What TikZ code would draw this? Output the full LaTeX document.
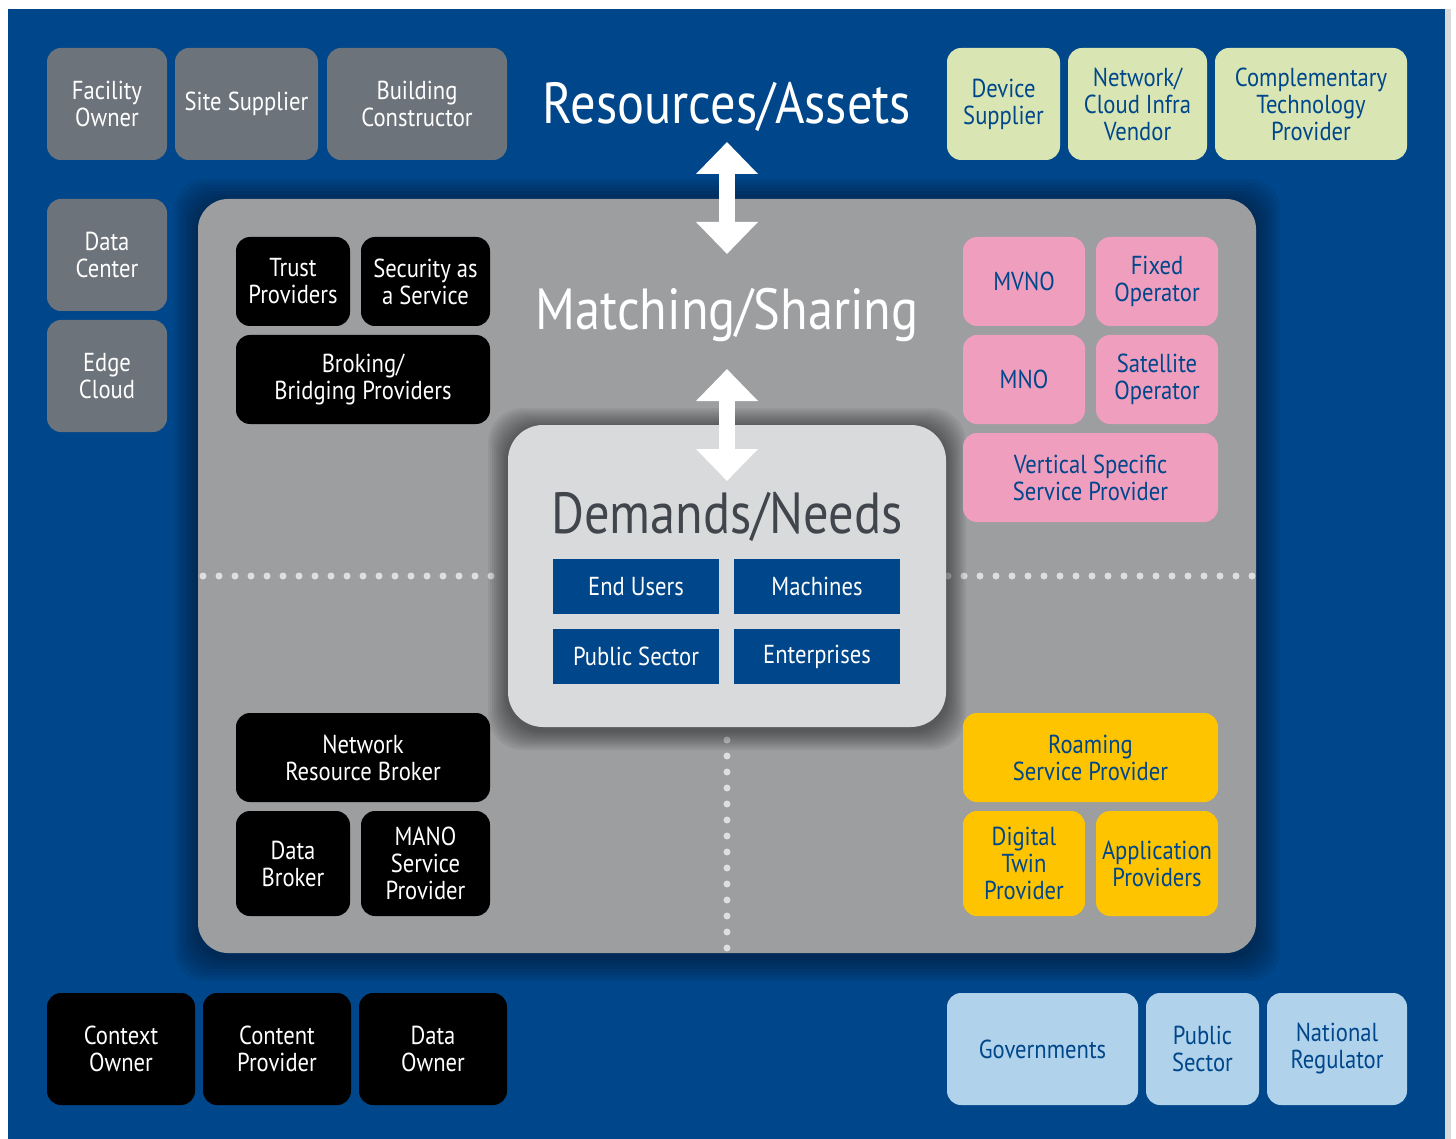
\documentclass[tikz,border=0pt]{standalone}
\usepackage{fontspec}
\setmainfont{PT Sans}[FakeStretch=0.87]
\usetikzlibrary{arrows.meta}
\definecolor{bgblue}{RGB}{0,70,138}
\definecolor{boxgray}{RGB}{109,115,122}
\definecolor{panelgray}{RGB}{157,158,160}
\definecolor{demgray}{RGB}{217,218,220}
\definecolor{demtext}{RGB}{65,70,76}
\definecolor{lightgreen}{RGB}{217,230,180}
\definecolor{pinkbox}{RGB}{239,158,190}
\definecolor{yellowbox}{RGB}{255,196,0}
\definecolor{lightblue}{RGB}{176,210,235}
\definecolor{dotcol}{RGB}{222,222,224}
\tikzset{
  box/.style={rounded corners=14pt, align=center, inner sep=0pt,
    font=\fontsize{26}{27}\selectfont},
  graybox/.style={box, fill=boxgray, text=white},
  blackbox/.style={box, fill=black, text=white},
  greenbox/.style={box, fill=lightgreen, text=bgblue},
  pinkbox/.style={box, fill=pinkbox, text=bgblue},
  yellowbox/.style={box, fill=yellowbox, text=bgblue},
  lightbluebox/.style={box, fill=lightblue, text=bgblue},
  needbox/.style={box, rounded corners=0pt, fill=bgblue, text=white,
    minimum width=166, minimum height=55},
  title/.style={font=\fontsize{58}{62}\selectfont, inner sep=0pt},
  bigarrow/.style={white, line width=16pt,
    {Triangle[width=60pt,length=32pt]}-{Triangle[width=60pt,length=32pt]}},
}
\begin{document}
\begin{tikzpicture}[x=1pt,y=-1pt]
\useasboundingbox (0,0) rectangle (1456,1139);
\fill[white] (0,0) rectangle (1456,1139);
\fill[bgblue] (8,9) rectangle (1445,1139);
\fill[black!15] (1445,9) rectangle (1451,1139);
% top row
\node[graybox, minimum width=120, minimum height=112] (facility) at (107,104) {Facility\\Owner};
\node[graybox, minimum width=143, minimum height=112] (site) at (246.5,104) {Site Supplier};
\node[graybox, minimum width=180, minimum height=112] (building) at (417,104) {Building\\Constructor};
\node[greenbox, minimum width=113, minimum height=112] (device) at (1003.5,104) {Device\\Supplier};
\node[greenbox, minimum width=139, minimum height=112] (cloudvendor) at (1137.5,104) {Network/\\Cloud Infra\\Vendor};
\node[greenbox, minimum width=192, minimum height=112] (complementary) at (1311,104) {Complementary\\Technology\\Provider};
\node[graybox, minimum width=120, minimum height=112] (datacenter) at (107,255) {Data\\Center};
\node[graybox, minimum width=120, minimum height=112] (edgecloud) at (107,376) {Edge\\Cloud};
% matching panel
\foreach \s in {3,6,...,24}
\fill[black, opacity=0.05, rounded corners=30] (198-\s,199-\s+4) rectangle (1256+\s,953+\s+4);
\fill[panelgray, rounded corners=30] (198,199) rectangle (1256,953);
\foreach \x in {203,219,...,491}
\fill[dotcol] (\x,576) circle (3.5);
\foreach \x in {948,964,...,1252}
\fill[dotcol] (\x,576) circle (3.5);
\foreach \y in {740,756,...,948}
\fill[dotcol] (727,\y) circle (3.5);
% demands box
\foreach \s in {2,4,...,20}
\fill[black, opacity=0.05, rounded corners=35] (508-\s,425-\s+3) rectangle (946+\s,727+\s+3);
\fill[demgray, rounded corners=35] (508,425) rectangle (946,727);
\node[blackbox, minimum width=114, minimum height=89] (trust) at (293,281.5) {Trust\\Providers};
\node[blackbox, minimum width=129, minimum height=89] (security) at (425.5,281.5) {Security as\\a Service};
\node[blackbox, minimum width=254, minimum height=89] (broking) at (363,379.5) {Broking/\\Bridging Providers};
\node[blackbox, minimum width=254, minimum height=89] (netbroker) at (363,757.5) {Network\\Resource Broker};
\node[blackbox, minimum width=114, minimum height=105] (databroker) at (293,863.5) {Data\\Broker};
\node[blackbox, minimum width=129, minimum height=105] (mano) at (425.5,863.5) {MANO\\Service\\Provider};
\node[pinkbox, minimum width=122, minimum height=89] (mvno) at (1024,281.5) {MVNO};
\node[pinkbox, minimum width=122, minimum height=89] (fixed) at (1157,281.5) {Fixed\\Operator};
\node[pinkbox, minimum width=122, minimum height=89] (mno) at (1024,379.5) {MNO};
\node[pinkbox, minimum width=122, minimum height=89] (satellite) at (1157,379.5) {Satellite\\Operator};
\node[pinkbox, minimum width=255, minimum height=89] (vertical) at (1090.5,477.5) {Vertical Specific\\Service Provider};
\node[yellowbox, minimum width=255, minimum height=89] (roaming) at (1090.5,757.5) {Roaming\\Service Provider};
\node[yellowbox, minimum width=122, minimum height=105] (twin) at (1024,863.5) {Digital\\Twin\\Provider};
\node[yellowbox, minimum width=122, minimum height=105] (apps) at (1157,863.5) {Application\\Providers};
\node[needbox] (endusers) at (636,586.5) {End Users};
\node[needbox] (machines) at (817,586.5) {Machines};
\node[needbox] (pubsector) at (636,656.5) {Public Sector};
\node[needbox] (enterprises) at (817,656.5) {Enterprises};
% titles and arrows
\node[title, text=white] (resources) at (727,107) {Resources/Assets};
\node[title, text=white] (matching) at (727,315) {Matching/Sharing};
\node[title, text=demtext] (demands) at (727,517) {Demands/Needs};
\coordinate (resbottom) at (727,142);
\coordinate (matchtop) at (727,254);
\coordinate (matchbottom) at (727,369);
\coordinate (demtop) at (727,481);
\draw[bigarrow] (matchtop) -- (resbottom);
\draw[bigarrow] (demtop) -- (matchbottom);
% bottom row
\node[blackbox, minimum width=148, minimum height=112] (context) at (121,1049) {Context\\Owner};
\node[blackbox, minimum width=148, minimum height=112] (content) at (277,1049) {Content\\Provider};
\node[blackbox, minimum width=148, minimum height=112] (dataowner) at (433,1049) {Data\\Owner};
\node[lightbluebox, minimum width=191, minimum height=112] (governments) at (1042.5,1049) {Governments};
\node[lightbluebox, minimum width=113, minimum height=112] (publicsector) at (1202.5,1049) {Public\\Sector};
\node[lightbluebox, minimum width=140, minimum height=112] (regulator) at (1337,1049) {National\\Regulator};
\end{tikzpicture}
\end{document}
